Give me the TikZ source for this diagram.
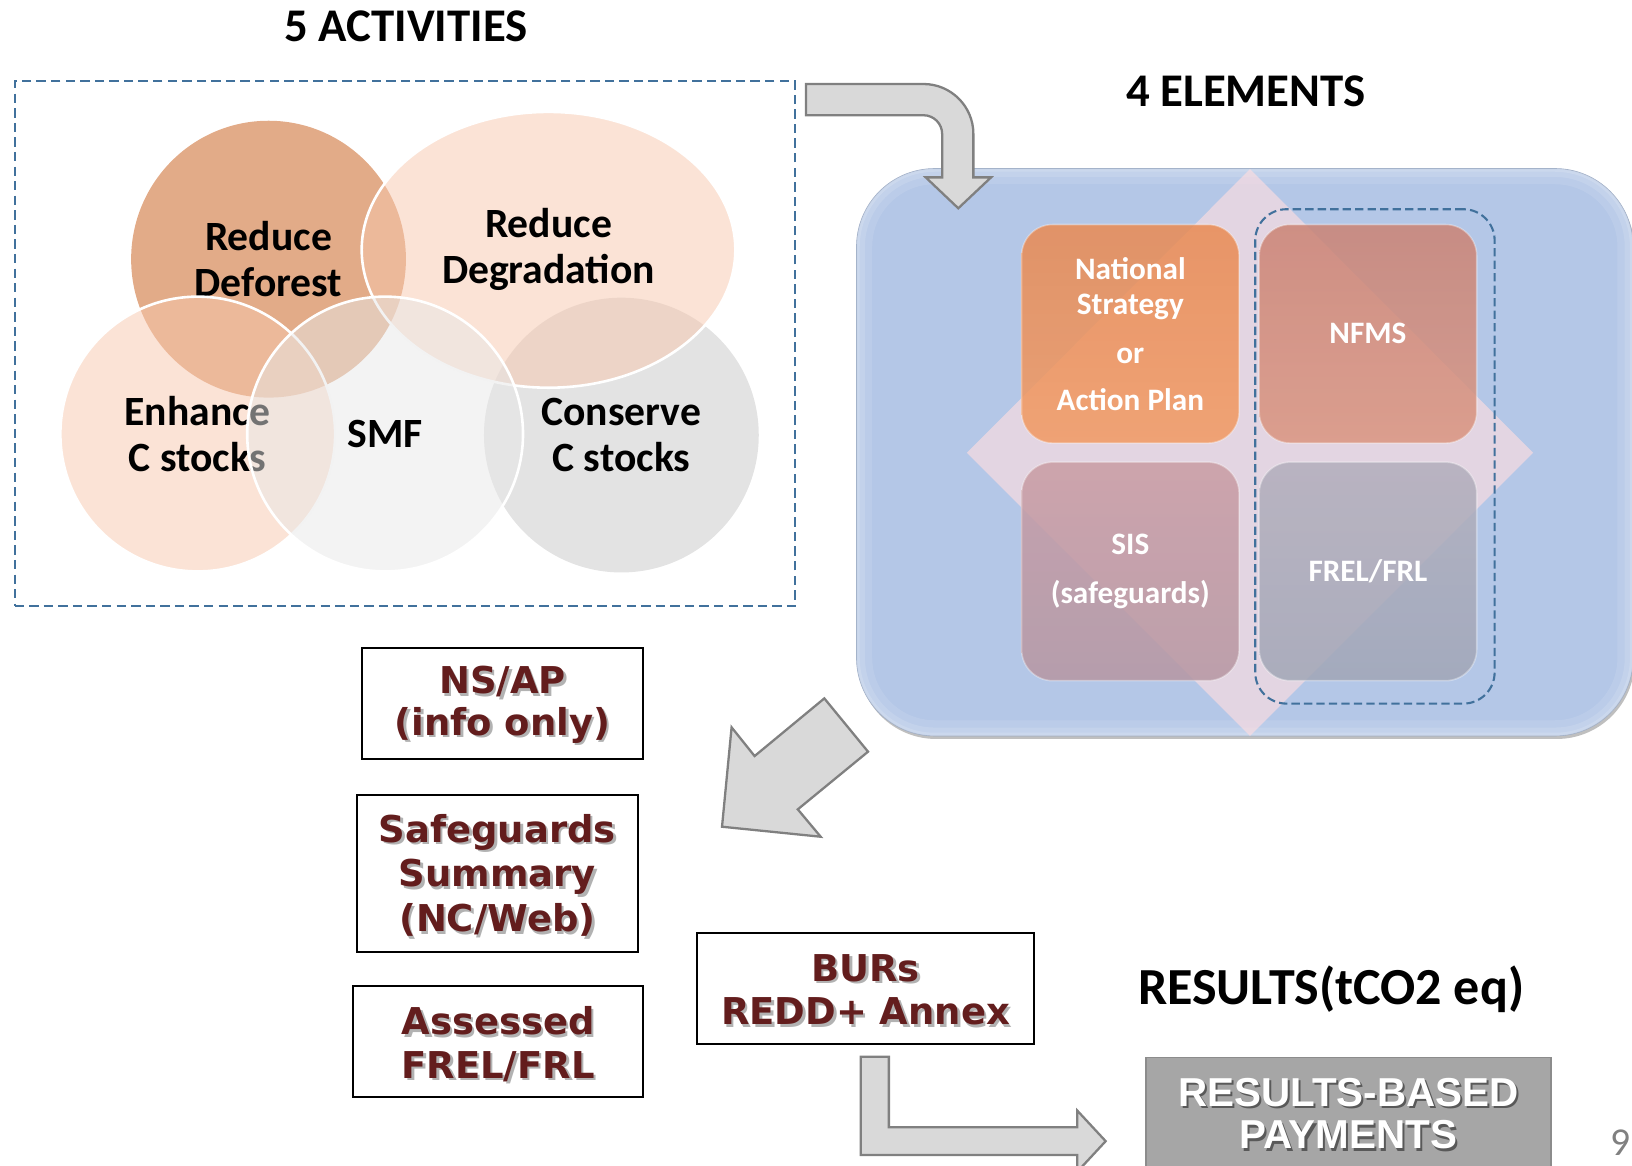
\documentclass[tikz,border=0pt]{standalone}
\usepackage{fontspec}
\setmainfont{Carlito}
\newfontfamily\boxfont{DejaVu Sans}
\newfontfamily\resfont{Liberation Sans}
\usetikzlibrary{shapes.geometric}
\definecolor{dforest}{HTML}{E2AB88}
\definecolor{peach}{HTML}{F7C7AD}
\definecolor{smfgray}{HTML}{E7E7E7}
\definecolor{consgray}{HTML}{E3E3E3}
\definecolor{dashblue}{HTML}{41719C}
\definecolor{boxblue}{HTML}{B4C7E7}
\definecolor{arrowfill}{HTML}{D9D9D9}
\definecolor{arrowline}{HTML}{808080}
\definecolor{maroontxt}{HTML}{631D1D}
\definecolor{resgray}{HTML}{A6A6A6}
\definecolor{diafill}{HTML}{FFDDE0}
\definecolor{nsA}{HTML}{E98A52}
\definecolor{nsB}{HTML}{F29A62}
\definecolor{nfA}{HTML}{CB8374}
\definecolor{nfB}{HTML}{DA9580}
\definecolor{sisA}{HTML}{C99CA3}
\definecolor{sisB}{HTML}{B696A2}
\definecolor{frA}{HTML}{B2AEBC}
\definecolor{frB}{HTML}{A1A6B6}
\begin{document}
\begin{tikzpicture}[x=1pt,y=-1pt,
  title/.style={font=\bfseries\fontsize{45}{54}\selectfont},
  venn/.style={ellipse, inner sep=0pt, align=center,
    font=\bfseries\fontsize{40}{44}\selectfont, text opacity=1},
  dashbox/.style={draw=dashblue, line width=2pt, dash pattern=on 9pt off 5pt},
  sq/.style={rounded corners=30pt, minimum width=209pt, minimum height=210pt,
    fill opacity=0.85, text opacity=1, text=white, align=center,
    draw=white, draw opacity=0.35, line width=1.5pt,
    font=\bfseries\fontsize{30}{34}\selectfont},
  outbox/.style={draw=black, line width=2pt, fill=white},
  mtxt/.style={align=center, text=maroontxt, font=\boxfont\bfseries\fontsize{35.5}{42}\selectfont},
  mshadow/.style={mtxt, text=black!30},
  blockarrow/.style={fill=arrowfill, draw=arrowline, line width=2.2pt, line join=miter},
  rtxt/.style={align=center, text=white, font=\resfont\bfseries\fontsize{38.8}{41}\selectfont},
  rshadow/.style={rtxt, text=black!65},
  glow/.style={draw=white, rounded corners=75pt, minimum width=746pt, minimum height=545pt}
]
\useasboundingbox (0,0) rectangle (1568,1120);
\clip (0,0) rectangle (1568,1120);

% titles
\node[title] (t1) at (390,25) {5 ACTIVITIES};
\node[title] (t2) at (1197,88) {4 ELEMENTS};
\node[font=\bfseries\fontsize{50}{60}\selectfont] (t3) at (1279,950) {RESULTS(tCO2 eq)};

% activities box
\node[dashbox, minimum width=750pt, minimum height=504pt] (act) at (389,330) {};

% venn
\node[venn, fill=dforest, minimum width=264pt, minimum height=266pt] (vdef) at (258,249) {Reduce\\Deforest};
\node[venn, fill=consgray, minimum width=264pt, minimum height=264pt] (vcons) at (597,418) {Conserve\\C stocks};
\node[venn, fill=peach, fill opacity=0.5, draw=white, line width=2.5pt, minimum width=359pt, minimum height=265pt] (vdeg) at (527,240) {Reduce\\Degradation};
\node[venn, fill=peach, fill opacity=0.5, draw=white, line width=2.5pt, minimum width=264pt, minimum height=264pt] (venh) at (190,417) {Enhance\\C stocks};
\node[venn, fill=smfgray, fill opacity=0.5, draw=white, line width=2.5pt, minimum width=265pt, minimum height=264pt] (vsmf) at (370,417) {SMF};

% blue elements box
\node[fill=black, fill opacity=0.25, rounded corners=75pt, minimum width=746pt, minimum height=545pt] (boxsh) at (1197.5,437.5) {};
\node[fill=boxblue, draw=boxblue!85!black, line width=0.8pt, rounded corners=75pt, minimum width=746pt, minimum height=545pt] (box) at (1196,434.5) {};
\begin{scope}
\clip[rounded corners=75pt] (823,162) rectangle (1569,707);
\node[glow, draw opacity=0.10, line width=30pt] (g1) at (1196,434.5) {};
\node[glow, draw opacity=0.12, line width=16pt] (g2) at (1196,434.5) {};
\node[glow, draw opacity=0.15, line width=6pt] (g3) at (1196,434.5) {};
\end{scope}

% diamond
\fill[diafill, fill opacity=0.64] (1201,162.5) -- (1473,435) -- (1201,707) -- (929,435) -- cycle;

% squares
\node[sq, top color=nsA, bottom color=nsB] (ns) at (1086,320.7) {National\\Strategy\\[13pt]or\\[11pt]Action Plan};
\node[sq, top color=nfA, bottom color=nfB] (nfms) at (1314.3,320.7) {NFMS};
\node[sq, top color=sisA, bottom color=sisB] (sis) at (1086,549) {SIS\\[14pt](safeguards)};
\node[sq, top color=frA, bottom color=frB] (frel) at (1314.3,549) {FREL/FRL};

% right dashed group
\node[dashblue, draw, line width=2pt, dash pattern=on 8pt off 4pt, rounded corners=30pt, minimum width=230pt, minimum height=475pt] (grp) at (1321,438.5) {};

% curved arrow
\draw[blockarrow] (774.4,80.7) -- (887.2,80.7) arc[start angle=270, end angle=360, radius=48]
  -- (935.2,170.4) -- (952.2,170.4) -- (920.7,200.1) -- (889.4,170.4) -- (905.2,170.4)
  -- (905.2,128.7) arc[start angle=0, end angle=-90, radius=18] -- (774.4,110.7) -- cycle;

% diagonal arrow
\draw[blockarrow] (693.7,794.3) -- (702.9,698.8) -- (725,726.4) -- (792,671) -- (834,722.2)
  -- (766.5,777.6) -- (788.5,803.9) -- cycle;

% output boxes
\node[outbox, minimum width=270pt, minimum height=106pt] (nsap) at (482.8,676) {};
\node[mshadow] (nsapS) at (485.3,679.5) {NS/AP\\[-2pt](info only)};
\node[mtxt] (nsapT) at (482.8,677) {NS/AP\\[-2pt](info only)};

\node[outbox, minimum width=269.5pt, minimum height=150.4pt] (safe) at (477.8,839.2) {};
\node[mshadow] (safeS) at (480.3,843.5) {Safeguards\\[1pt]Summary\\[1pt](NC/Web)};
\node[mtxt] (safeT) at (477.8,841) {Safeguards\\[1pt]Summary\\[1pt](NC/Web)};

\node[outbox, minimum width=279pt, minimum height=106.7pt] (ass) at (478.5,1000.4) {};
\node[mshadow] (assS) at (481,1005.5) {Assessed\\FREL/FRL};
\node[mtxt] (assT) at (478.5,1003) {Assessed\\FREL/FRL};

\node[outbox, minimum width=324.3pt, minimum height=106.2pt] (bur) at (831.6,949.9) {};
\node[mshadow] (burS) at (834.1,953.5) {BURs\\REDD+ Annex};
\node[mtxt] (burT) at (831.6,951) {BURs\\REDD+ Annex};

% bottom arrow
\draw[blockarrow] (827,1015.3) -- (854,1015.3) -- (854,1083) -- (1035,1083) -- (1035,1067)
  -- (1062.3,1096.4) -- (1035,1125.8) -- (1035,1109.7) -- (827,1109.7) -- cycle;

% results box
\node[fill=resgray, draw=black!45, line width=1.5pt, minimum width=389pt, minimum height=114pt] (res) at (1295.5,1073) {};
\node[rshadow] (resS) at (1297.5,1072) {RESULTS-BASED\\PAYMENTS};
\node[rtxt] (resT) at (1295.5,1070) {RESULTS-BASED\\PAYMENTS};

% page number
\node[text=black!50, font=\fontsize{38}{44}\selectfont] (pg) at (1557,1098) {9};
\end{tikzpicture}
\end{document}
